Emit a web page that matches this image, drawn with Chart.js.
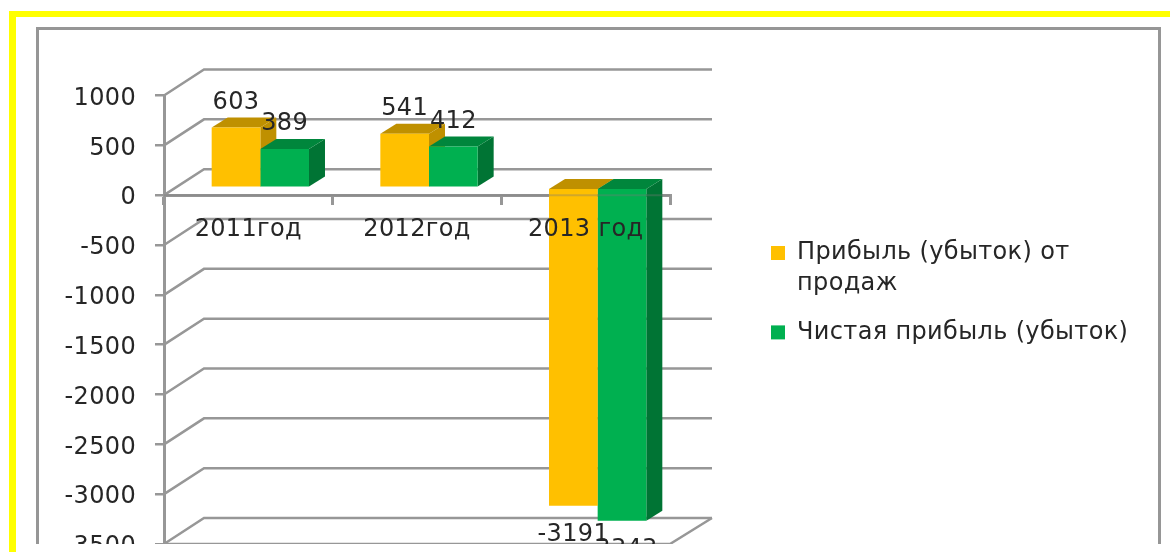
<!DOCTYPE html>
<html>
<head>
<meta charset="utf-8">
<script src="https://cdn.jsdelivr.net/npm/chart.js@4/dist/chart.umd.js"></script>
<style>
	body { margin: 0; background: #fff; }
	#yellow { position: absolute; left: 9px; top: 11px; right: 0; bottom: 0; border-left: 7px solid #ffff00; border-top: 6px solid #ffff00; }
	#clip { position: absolute; left: 0; top: 0; width: 1170px; height: 544px; overflow: hidden; }
	#frame { position: absolute; left: 36px; top: 27px; width: 1119px; height: 600px; border: 3px solid #969696; }
	canvas { position: absolute; left: 0; top: 0; filter: blur(0.4px); }
</style>
</head>
<body>
<div id="yellow"></div>
<div id="clip">
	<div id="frame"></div>
	<canvas id="chart" width="1170" height="640"></canvas>
</div>
<script>
const categories = ["2011год", "2012год", "2013 год"];
const salesProfit = [603, 541, -3191];
const netProfit = [389, 412, -3343];
const salesLabel = ["Прибыль (убыток) от", "продаж"];
const netLabel = "Чистая прибыль (убыток)";

const FONT = { family: "'DejaVu Sans'", size: 24, lineHeight: 1.3 };
const TEXT = "#262626";
const GRID = "#979797";

// 3d look: wall is pushed back from the axes, bars stand half way in
const WALL = { x: 40, y: -26 };
const BAR_SHIFT = { x: 12, y: -7.5 };
const DEPTH = { x: 16, y: -10 };
const FACES = [
	{ top: "#bf9000", side: "#bf9000" },
	{ top: "#00863c", side: "#007434" }
];

const walls = {
	id: "walls",
	beforeDraw(chart) {
		// the original text is wider than DejaVu, open it up a little
		chart.ctx.letterSpacing = "0.35px";
	},
	beforeDatasetsDraw(chart) {
		let ctx = chart.ctx;
		let { x, y } = chart.scales;
		let left = x.left;
		let right = x.right;
		ctx.save();
		ctx.strokeStyle = GRID;
		ctx.lineWidth = 2.5;
		for (let tick of y.ticks) {
			let py = y.getPixelForValue(tick.value);
			ctx.beginPath();
			ctx.moveTo(left, py);
			ctx.lineTo(left + WALL.x, py + WALL.y);
			ctx.lineTo(right + WALL.x + 2, py + WALL.y);
			ctx.stroke();
		}
		// floor edge
		let floor = y.getPixelForValue(y.min);
		ctx.beginPath();
		ctx.moveTo(left, floor);
		ctx.lineTo(right, floor);
		ctx.lineTo(right + WALL.x + 2, floor + WALL.y);
		ctx.stroke();
		ctx.restore();
	}
};

const bars3d = {
	id: "bars3d",
	beforeDatasetsDraw(chart) {
		let ctx = chart.ctx;
		ctx.save();
		ctx.translate(BAR_SHIFT.x, BAR_SHIFT.y);
		chart.data.datasets.forEach((set, i) => {
			for (let el of chart.getDatasetMeta(i).data) {
				let l = el.x - el.width / 2;
				let r = el.x + el.width / 2;
				let t = Math.min(el.y, el.base);
				let b = Math.max(el.y, el.base);
				ctx.fillStyle = FACES[i].side;
				ctx.beginPath();
				ctx.moveTo(r, t);
				ctx.lineTo(r + DEPTH.x, t + DEPTH.y);
				ctx.lineTo(r + DEPTH.x, b + DEPTH.y);
				ctx.lineTo(r, b);
				ctx.fill();
				ctx.fillStyle = FACES[i].top;
				ctx.beginPath();
				ctx.moveTo(l, t);
				ctx.lineTo(l + DEPTH.x, t + DEPTH.y);
				ctx.lineTo(r + DEPTH.x, t + DEPTH.y);
				ctx.lineTo(r, t);
				ctx.fill();
			}
		});
		// the fronts are drawn by the library inside this translate
	},
	afterDatasetsDraw(chart) {
		let ctx = chart.ctx;
		ctx.restore();
		// axis shows faintly through the bars
		let { x, y } = chart.scales;
		ctx.save();
		ctx.strokeStyle = "rgba(120,120,120,0.35)";
		ctx.lineWidth = 2;
		ctx.beginPath();
		ctx.moveTo(x.left, y.getPixelForValue(0));
		ctx.lineTo(x.right, y.getPixelForValue(0));
		ctx.stroke();
		ctx.restore();
	}
};

const valueLabels = {
	id: "valueLabels",
	afterDatasetsDraw(chart) {
		let ctx = chart.ctx;
		ctx.save();
		ctx.font = FONT.size + "px " + FONT.family;
		ctx.fillStyle = TEXT;
		ctx.textAlign = "center";
		ctx.textBaseline = "middle";
		chart.data.datasets.forEach((set, i) => {
			chart.getDatasetMeta(i).data.forEach((el, j) => {
				let v = set.data[j];
				let px = el.x + BAR_SHIFT.x;
				let py = el.y + BAR_SHIFT.y + (v < 0 ? 29 : -25);
				ctx.fillText(String(v), px, py);
			});
		});
		ctx.restore();
	}
};

// put the legend where the original has it, right of the plot
const legendSpot = {
	id: "legendSpot",
	afterLayout(chart) {
		let l = chart.legend;
		let pad = l.options.labels.padding;
		l.left = 771 - pad;
		l.right = 1155;
		l.top = 241 - pad;
		l.bottom = 600;
	}
};

new Chart(document.getElementById("chart"), {
	type: "bar",
	data: {
		labels: categories,
		datasets: [
			{ label: salesLabel, data: salesProfit, backgroundColor: "#ffc000", clip: false },
			{ label: netLabel, data: netProfit, backgroundColor: "#00b050", clip: false }
		]
	},
	plugins: [walls, bars3d, valueLabels, legendSpot],
	options: {
		responsive: false,
		animation: false,
		layout: { padding: { left: 0, top: 95.5, right: 500, bottom: 96 } },
		datasets: { bar: { categoryPercentage: 0.577, barPercentage: 1 } },
		scales: {
			x: {
				position: { y: 0 },
				grid: { drawOnChartArea: false, color: GRID, lineWidth: 3, tickLength: 8 },
				border: { color: GRID, width: 3 },
				ticks: { color: TEXT, font: FONT, padding: 11, maxRotation: 0, autoSkip: false, z: 1 }
			},
			y: {
				min: -3500,
				max: 1000,
				afterFit(scale) {
					scale.width = 164;
				},
				grid: { drawOnChartArea: false, color: GRID, lineWidth: 2.5, tickLength: 9 },
				border: { color: GRID, width: 3 },
				ticks: {
					stepSize: 500,
					color: TEXT,
					font: FONT,
					padding: 19,
					labelOffset: 3,
					callback: v => String(v)
				}
			}
		},
		plugins: {
			tooltip: { enabled: false },
			legend: {
				position: "chartArea",
				align: "start",
				labels: { color: TEXT, font: FONT, boxWidth: 14, boxHeight: 14, padding: 17 }
			}
		}
	}
});
</script>
</body>
</html>
